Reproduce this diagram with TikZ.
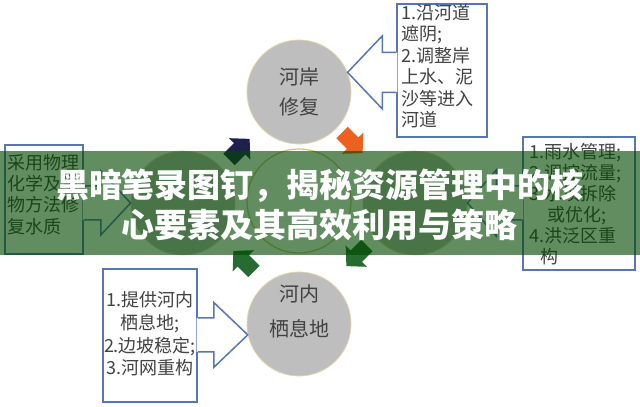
\documentclass[tikz,border=0pt]{standalone}
\usepackage{fontspec}
\setmainfont{Noto Sans CJK SC}
\usetikzlibrary{calc}
\definecolor{circgray}{RGB}{190,190,190}
\definecolor{circedge}{RGB}{222,214,172}
\definecolor{centeredge}{RGB}{205,196,112}
\definecolor{boxblue}{RGB}{88,118,178}
\definecolor{txtgray}{RGB}{66,66,66}
\definecolor{navyA}{RGB}{32,32,78}
\definecolor{orangeA}{RGB}{238,96,32}
\definecolor{greenA}{RGB}{38,108,48}
\definecolor{bannergreen}{RGB}{0,72,0}
\newcommand{\calloutarrow}[6]{%
 \fill[white] ($(#1)+(#6,#4)$) -- ($(#1)+(#3,#4)$) -- ($(#1)+(#3,#5)$) -- (#2) -- ($(#1)+(#3,-#5)$) -- ($(#1)+(#3,-#4)$) -- ($(#1)+(#6,-#4)$) -- cycle;
 \draw[callout] ($(#1)+(0,#4)$) -- ($(#1)+(#3,#4)$) -- ($(#1)+(#3,#5)$) -- (#2) -- ($(#1)+(#3,-#5)$) -- ($(#1)+(#3,-#4)$) -- ($(#1)+(0,-#4)$);
}
\newcommand{\flowarrow}[5]{%
 \begin{scope}[shift={($(#1)!0.5!(#2)+(#5)$)}, rotate=#4]
  \fill[#3] (-14,-8) -- (1,-8) -- (1,-15) -- (15,0) -- (1,15) -- (1,8) -- (-14,8) -- cycle;
 \end{scope}}
\tikzset{
 circ/.style={circle, minimum size=104pt, inner sep=0pt, fill=circgray, draw=circedge, line width=0.8pt},
 circtext/.style={align=center, text=txtgray, font=\fontsize{20}{30}\selectfont, inner sep=0pt},
 infobox/.style={rectangle, draw=boxblue, line width=1.5pt, fill=white, inner sep=0pt},
 infotext/.style={text=txtgray, font=\fontsize{18}{21.5}\selectfont, inner sep=0pt},
 callout/.style={draw=boxblue, line width=1.5pt, line join=miter},
}
\begin{document}
\begin{tikzpicture}[x=1pt,y=1pt]
\useasboundingbox (0,0) rectangle (640,407);
\fill[white] (0,0) rectangle (640,407);

% circles
\node[circ] (T) at (299,315) {};
\node[circ] (B) at (299,83) {};
\node[circ] (L) at (183,204) {};
\node[circ] (R) at (415,204) {};
\node[circ, fill=white, draw=centeredge, line width=1.2pt] (C) at (299,206) {};

% boxes
\node[infobox, minimum width=90, minimum height=133] (TRb) at (442,336.5) {};
\node[infobox, minimum width=78, minimum height=109] (Lb) at (44,207.5) {};
\node[infobox, minimum width=94, minimum height=133] (BLb) at (150,71.5) {};
\node[infobox, minimum width=112, minimum height=133] (Rb) at (579,203.5) {};

% callout arrows
\coordinate (t1) at (T.22);
\coordinate (b1) at (TRb.west |- t1);
\calloutarrow{b1}{t1}{-14}{20}{36.5}{1.2}
\coordinate (t2) at (L.west);
\coordinate (b2) at (Lb.east |- t2);
\calloutarrow{b2}{t2}{17}{17}{32}{-1.2}
\coordinate (t3) at (B.192);
\coordinate (b3) at (BLb.east |- t3);
\calloutarrow{b3}{t3}{16}{17}{32.5}{-1.2}
\coordinate (t4) at (R.east);
\coordinate (b4) at (Rb.west |- t4);
\calloutarrow{b4}{t4}{-26}{17}{33}{1.2}

% texts
\node[circtext] (Tt) at (T) {河岸\\修复};
\node[circtext, font=\fontsize{20}{35}\selectfont] (Bt) at ($(B)+(0,13)$) {河内\\栖息地};
\node[infotext, anchor=north west, align=left] (TRt) at (401,403) {1.沿河道\\遮阴;\\2.调整岸\\上水、泥\\沙等进入\\河道};
\node[infotext, anchor=north west, align=left, font=\fontsize{18}{21.3}\selectfont] (Lt) at (7,253) {采用物理\\化学及生\\物方法修\\复水质};
\node[infotext, align=center, font=\fontsize{18}{22.7}\selectfont] (BLt) at (150,73) {1.提供河内\\栖息地;\\2.边坡稳定;\\3.河网重构};
\node[infotext, anchor=north west, align=left, font=\fontsize{18}{21}\selectfont] (Rt) at (529,264) {1.雨水管理;\\2.调控流量;\\3.水坝拆除\\\hspace*{1em}或优化;\\4.洪泛区重\\\hspace*{0.6em}构};

% flow arrows
\flowarrow{L}{T}{navyA}{45}{-2,-2}
\flowarrow{T}{R}{orangeA}{-45}{-5,5}
\flowarrow{R}{B}{greenA}{-135}{0,8}
\flowarrow{B}{L}{greenA}{135}{3,2}

% banner
\fill[bannergreen, opacity=0.62] (0,152) rectangle (640,256);
\node[font=\bfseries\fontsize{33}{40}\selectfont, text=white, align=center, inner sep=0pt] (title) at (320,202) {黑暗笔录图钉，揭秘资源管理中的核\\心要素及其高效利用与策略};
\end{tikzpicture}
\end{document}
